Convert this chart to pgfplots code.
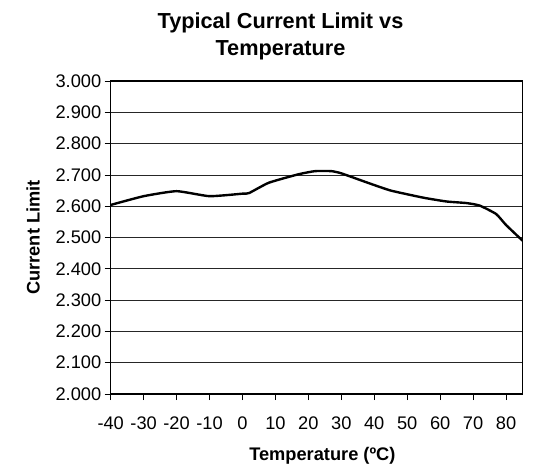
\documentclass[border=0pt]{standalone}
\usepackage{pgfplots}
\pgfplotsset{compat=1.18}
\usepackage{fontspec}
\setmainfont{Liberation Sans}

\begin{document}
\begin{tikzpicture}
\useasboundingbox (-110.7bp,-74bp) rectangle (427.3bp,394bp);
\begin{axis}[
  at={(0,0)}, anchor=south west,
  scale only axis, width=411.8bp, height=313bp,
  xmin=-40, xmax=85, ymin=2, ymax=3,
  xtick={-40,-30,-20,-10,0,10,20,30,40,50,60,70,80},
  ytick={2,2.1,2.2,2.3,2.4,2.5,2.6,2.7,2.8,2.9,3},
  ymajorgrids,
  grid style={black!85, line width=0.8pt},
  axis line style={black, line width=1.1pt},
  tick style={black, line width=0.8pt},
  tick align=outside, major tick length=6bp,
  xtick pos=bottom, ytick pos=left,
  tick label style={font=\fontsize{18.3}{21}\selectfont},
  /pgf/number format/assume math mode=true,
  xticklabel style={yshift=-13bp},
  yticklabel style={/pgf/number format/.cd, fixed, fixed zerofill, precision=3},
  xlabel={Temperature (ºC)},
  ylabel={Current Limit},
  label style={font=\bfseries\fontsize{18.3}{21}\selectfont},
  xlabel style={at={(axis description cs:0.514,-0.214)}, anchor=base},
  ylabel style={at={(axis description cs:-0.1887,0.5)}, anchor=center},
]
\addplot[black, line width=2.4pt, smooth, tension=0.3] coordinates {
(-40,2.604) (-30,2.632) (-20,2.648) (-10,2.632) (0,2.640) (2,2.642)
(8,2.675) (17,2.702) (22,2.712) (27,2.712) (30,2.705) (38,2.675)
(45,2.650) (55,2.627) (62,2.615) (68,2.610) (72,2.602) (77,2.575)
(80,2.540) (85,2.490)
};
\end{axis}
\node[anchor=base, font=\bfseries\fontsize{21.8}{26}\selectfont] at (169.8bp,365.7bp) {Typical Current Limit vs};
\node[anchor=base, font=\bfseries\fontsize{21.8}{26}\selectfont] at (169.8bp,338.3bp) {Temperature};
\end{tikzpicture}
\end{document}
